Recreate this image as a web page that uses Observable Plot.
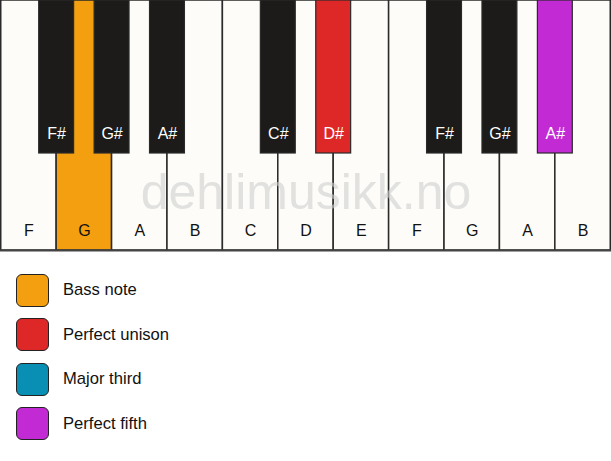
<!DOCTYPE html>
<html>
<head>
<meta charset="utf-8">
<script src="https://cdn.jsdelivr.net/npm/d3@7"></script>
<script src="https://cdn.jsdelivr.net/npm/@observablehq/plot@0.6"></script>
<style>
  body { margin: 0; background: #fff; font-family: "Liberation Sans", Arial, sans-serif; }
  #legend { position: relative; padding-top: 21px; padding-left: 16px; }
  .row { display: flex; align-items: center; height: 34px; margin-bottom: 10.5px; }
  .sw { width: 31px; height: 31px; border: 1.5px solid #222; border-radius: 6px; box-sizing: content-box; }
  .lab { margin-left: 14px; font-size: 16.6px; color: #111; }
  svg { display: block; }
</style>
</head>
<body>
<div id="chart"></div>
<div id="legend"></div>
<script>
// white keys
const whiteNotes = ["F","G","A","B","C","D","E","F","G","A","B"];
const whiteColors = ["#FDFCF8","#F39F0F","#FDFCF8","#FDFCF8","#FDFCF8","#FDFCF8","#FDFCF8","#FDFCF8","#FDFCF8","#FDFCF8","#FDFCF8"];
// black keys: position = white key boundary index
const blackNotes = ["F#","G#","A#","C#","D#","F#","G#","A#"];
const blackPos = [1,2,3,5,6,8,9,10];
const blackColors = ["#1C1B19","#1C1B19","#1C1B19","#1C1B19","#DE2828","#1C1B19","#1C1B19","#C22AD4"];
// legend
const legendLabels = ["Bass note","Perfect unison","Major third","Perfect fifth"];
const legendColors = ["#F39F0F","#DE2828","#0A8FB4","#C22AD4"];
const watermark = "dehlimusikk.no";

const blackWidth = 0.63;
const blackDepth = 0.612;

const whites = whiteNotes.map((n, i) => ({note: n, x1: i, x2: i + 1, fill: whiteColors[i]}));
const blacks = blackNotes.map((n, i) => ({note: n, x1: blackPos[i] - blackWidth / 2, x2: blackPos[i] + blackWidth / 2, c: blackPos[i], fill: blackColors[i]}));

const plot = Plot.plot({
  width: 611,
  height: 252,
  margin: 0,
  x: {domain: [0, 11], range: [0.75, 610.25], axis: null},
  y: {domain: [0, 1], range: [0, 250], axis: null},
  style: {fontFamily: "'Liberation Sans', Arial, sans-serif", background: "transparent"},
  marks: [
    Plot.rect(whites, {x1: "x1", x2: "x2", y1: 0, y2: 1, fill: "fill", stroke: "#2a2a2a", strokeWidth: 1.5}),
    Plot.text(whites, {x: d => (d.x1 + d.x2) / 2, y: 0.92, text: "note", fill: "#111", fontSize: 16}),
    Plot.text([watermark], {x: 5.5, y: 0.77, text: d => d, fill: "#cfcfcf", fillOpacity: 0.6, fontSize: 50}),
    Plot.rect(blacks, {x1: "x1", x2: "x2", y1: 0, y2: blackDepth, fill: "fill", stroke: "#2a2a2a", strokeWidth: 1.2}),
    Plot.text(blacks, {x: "c", y: 0.532, text: "note", fill: "#fff", fontSize: 16}),
    Plot.ruleY([1], {stroke: "#444", strokeWidth: 2})
  ]
});
document.getElementById("chart").appendChild(plot);

const leg = d3.select("#legend");
legendLabels.forEach((l, i) => {
  const r = leg.append("div").attr("class", "row");
  r.append("div").attr("class", "sw").style("background", legendColors[i]);
  r.append("div").attr("class", "lab").text(l);
});
</script>
</body>
</html>
